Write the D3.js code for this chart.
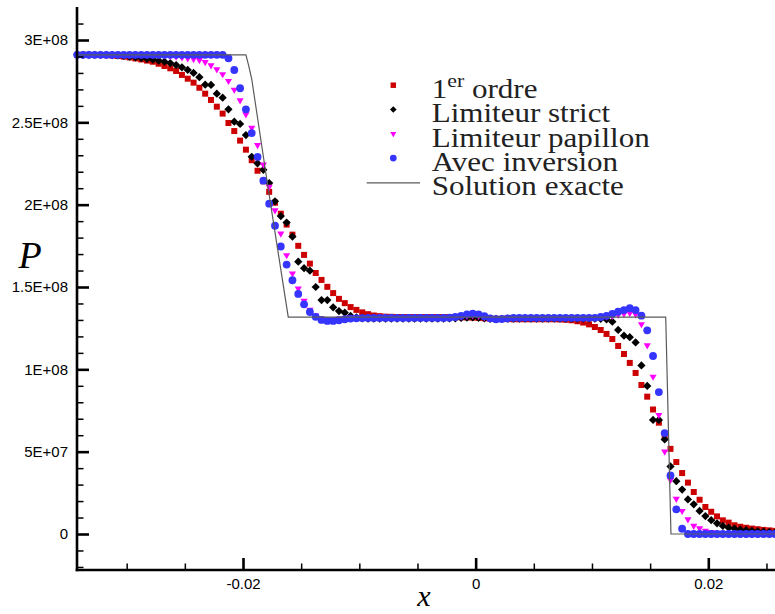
<!DOCTYPE html>
<html><head><meta charset="utf-8">
<script src="https://cdn.jsdelivr.net/npm/d3@7"></script>
<style>body{margin:0;background:#fff}svg{display:block;background:#fff}</style>
</head><body><svg id="c" width="775" height="614"></svg>
<script>
// ---------- data (P in units of 1e6 Pa) ----------
const xCells = [
-0.03425,-0.03375,-0.03325,-0.03275,-0.03225,-0.03175,-0.03125,-0.03075,-0.03025,-0.02975,
-0.02925,-0.02875,-0.02825,-0.02775,-0.02725,-0.02675,-0.02625,-0.02575,-0.02525,-0.02475,
-0.02425,-0.02375,-0.02325,-0.02275,-0.02225,-0.02175,-0.02125,-0.02075,-0.02025,-0.01975,
-0.01925,-0.01875,-0.01825,-0.01775,-0.01725,-0.01675,-0.01625,-0.01575,-0.01525,-0.01475,
-0.01425,-0.01375,-0.01325,-0.01275,-0.01225,-0.01175,-0.01125,-0.01075,-0.01025,-0.00975,
-0.00925,-0.00875,-0.00825,-0.00775,-0.00725,-0.00675,-0.00625,-0.00575,-0.00525,-0.00475,
-0.00425,-0.00375,-0.00325,-0.00275,-0.00225,-0.00175,-0.00125,-0.00075,-0.00025,0.00025,
0.00075,0.00125,0.00175,0.00225,0.00275,0.00325,0.00375,0.00425,0.00475,0.00525,
0.00575,0.00625,0.00675,0.00725,0.00775,0.00825,0.00875,0.00925,0.00975,0.01025,
0.01075,0.01125,0.01175,0.01225,0.01275,0.01325,0.01375,0.01425,0.01475,0.01525,
0.01575,0.01625,0.01675,0.01725,0.01775,0.01825,0.01875,0.01925,0.01975,0.02025,
0.02075,0.02125,0.02175,0.02225,0.02275,0.02325,0.02375,0.02425,0.02475,0.02525,
0.02575];

const pOrdre1 = [
291.0,291.0,291.0,290.9,290.9,290.8,290.6,290.3,289.9,289.4,
288.8,288.2,287.5,286.8,285.6,284.2,282.8,281.2,278.8,276.5,
274.1,271.0,267.4,263.6,259.5,255.3,249.6,244.7,238.9,233.4,
227.0,220.6,214.2,207.8,201.2,194.5,187.9,181.8,175.0,169.5,
164.2,158.5,154.3,150.1,146.3,142.8,140.2,137.8,136.1,134.6,
133.5,132.7,132.3,132.0,131.9,131.8,131.8,131.8,131.8,131.8,
131.8,131.8,131.8,131.8,131.8,131.7,131.6,131.5,131.4,131.2,
131.0,130.8,130.7,130.6,130.5,130.4,130.4,130.4,130.4,130.4,
130.4,130.4,130.4,130.3,130.1,129.8,129.2,128.4,127.3,125.7,
123.9,121.5,118.4,114.2,109.3,103.9,97.8,90.5,83.4,75.6,
67.6,59.7,51.7,43.7,37.0,31.2,25.5,20.8,16.4,13.5,
10.7,8.3,6.9,5.3,4.4,3.8,3.3,2.9,2.5,2.2,
1.9];

const pStrict = [
291.0,291.0,291.0,291.0,291.0,290.9,290.8,290.6,290.3,289.9,
289.5,289.0,288.5,288.1,287.5,286.8,286.0,284.8,283.4,281.8,
280.0,277.4,272.9,272.7,267.4,265.0,257.9,250.4,249.0,242.3,
229.1,225.1,221.2,213.1,202.0,193.1,189.1,180.6,165.4,161.4,
159.9,150.0,142.1,142.1,137.7,135.4,134.4,132.4,131.5,131.0,
130.8,130.8,130.8,130.8,130.8,130.8,130.8,130.8,130.8,130.8,
130.8,130.8,130.8,130.8,130.9,131.0,131.2,131.4,131.5,131.3,
131.0,130.7,130.6,130.7,130.8,130.8,130.8,130.8,130.8,130.8,
130.8,130.8,130.8,130.8,130.8,130.8,130.8,130.8,130.8,130.8,
130.7,130.3,128.9,123.9,120.4,119.5,116.3,102.4,89.9,69.3,
69.3,57.4,41.0,32.1,27.0,21.0,18.0,14.0,10.9,8.4,
6.5,4.9,3.8,3.2,2.7,2.3,1.9,1.6,1.4,1.2,
1.0];

const pPapillon = [
291.0,291.0,291.0,291.0,291.0,291.0,291.0,291.0,291.0,291.0,
291.0,291.0,291.0,290.9,290.8,290.6,290.3,289.9,289.4,288.9,
288.4,287.8,286.6,284.6,282.2,279.2,275.1,269.8,263.4,254.9,
246.6,236.2,224.3,210.8,196.6,182.4,169.3,158.2,149.0,141.6,
136.2,132.6,130.8,130.3,130.4,130.8,131.2,131.5,131.5,131.5,
131.5,131.5,131.5,131.5,131.5,131.5,131.5,131.5,131.5,131.5,
131.5,131.5,131.5,131.5,131.5,131.7,132.0,132.5,132.8,132.4,
131.6,131.0,130.9,131.2,131.5,131.5,131.5,131.5,131.5,131.5,
131.5,131.5,131.5,131.5,131.5,131.5,131.5,131.5,131.5,131.5,
131.7,132.0,132.5,133.1,133.7,134.2,133.4,127.4,114.6,95.5,
72.3,50.0,32.8,21.4,14.0,8.9,4.9,3.5,2.0,1.2,
0.7,0.4,0.2,0.1,0.1,0.1,0.1,0.1,0.1,0.1,
0.1];

const pInversion = [
291.0,291.0,291.0,291.0,291.0,291.0,291.0,291.0,291.0,291.0,
291.0,291.0,291.0,291.0,291.0,291.0,291.0,291.0,291.0,291.0,
291.0,291.0,291.0,291.0,291.0,291.0,288.9,281.8,270.7,257.9,
243.5,229.0,214.6,200.6,187.2,174.6,163.6,154.1,145.8,139.5,
134.8,131.9,130.0,129.4,129.4,129.8,130.4,130.8,131.0,131.1,
131.2,131.2,131.2,131.2,131.2,131.2,131.2,131.2,131.2,131.2,
131.2,131.2,131.2,131.2,131.4,131.8,132.5,133.3,133.8,133.4,
132.3,131.0,130.4,130.6,131.0,131.3,131.3,131.3,131.3,131.3,
131.3,131.3,131.3,131.3,131.3,131.3,131.3,131.3,131.3,131.3,
131.8,132.5,133.6,135.0,136.0,137.1,136.0,132.6,123.7,108.1,
86.2,61.3,35.6,15.0,3.2,0.0,0.0,0.0,0.0,0.0,
0.0,0.0,0.0,0.0,0.0,0.0,0.0,0.0,0.0,0.0,
0.0];

const exactX = [-0.03425,-0.01975,-0.0195,-0.01925,-0.01783,-0.01611,0.01634,0.01679,0.02575];
const exactP = [291.0,291.0,284.2,276.3,209.5,131.7,131.7,0.0,0.0];

const xTickVals = [-0.02, 0, 0.02];
const xTickLabels = ["-0.02", "0", "0.02"];
const xMinorVals = [-0.03,-0.025,-0.015,-0.01,-0.005,0.005,0.01,0.015,0.025];
const yTickVals = [0, 50, 100, 150, 200, 250, 300];
const yTickLabels = ["0", "5E+07", "1E+08", "1.5E+08", "2E+08", "2.5E+08", "3E+08"];
const yMinorVals = [-20,-10,10,20,30,40,60,70,80,90,110,120,130,140,160,170,180,190,210,220,230,240,260,270,280,290,310];

const seriesNames = ["1er ordre", "Limiteur strict", "Limiteur papillon", "Avec inversion", "Solution exacte"];

// ---------- drawing ----------
const svg = d3.select("#c");
const x = d3.scaleLinear().domain([-0.02, 0.02]).range([243, 708.3]);
const y = d3.scaleLinear().domain([0, 300]).range([534, 40]);
const axX = 77, axY = 570, axTop = y(320), axRight = 775;

const series = [
  {vals: pOrdre1, color: "#cc0000", type: d3.symbolSquare, size: 36, rot: 0, lsize: 30},
  {vals: pStrict, color: "#000000", type: d3.symbolSquare, size: 34, rot: 45, lsize: 22},
  {vals: pPapillon, color: "#ff00ff", type: d3.symbolTriangle, size: 22, rot: 180, lsize: 16},
  {vals: pInversion, color: "#3535ff", type: d3.symbolCircle, size: 48, rot: 0, lsize: 36}
];

// markers
series.forEach(s => {
  const gen = d3.symbol().type(s.type).size(s.size);
  svg.append("g").selectAll("path").data(s.vals).join("path")
    .attr("d", gen)
    .attr("fill", s.color)
    .attr("transform", (v, i) => `translate(${x(xCells[i])},${y(v)}) rotate(${s.rot})`);
});

// exact solution
const line = d3.line().x(d => x(d[0])).y(d => y(d[1]));
svg.append("path")
  .attr("d", line(exactX.map((v, i) => [v, exactP[i]])))
  .attr("fill", "none").attr("stroke", "#5a5a5a").attr("stroke-width", 1.2);

// axes
const gy = svg.append("g").attr("transform", `translate(${axX},0)`);
gy.call(d3.axisLeft(y).tickValues(yMinorVals).tickSize(-6.5).tickSizeOuter(0).tickFormat(""));
gy.call(g => g.selectAll(".tick line").attr("stroke-width", 1.5).attr("stroke", "#000"));
gy.select(".domain").remove();
const gy2 = svg.append("g").attr("transform", `translate(${axX},0)`);
gy2.call(d3.axisLeft(y).tickValues(yTickVals).tickFormat((d, i) => yTickLabels[i])
  .tickSize(-12).tickSizeOuter(0).tickPadding(9));
gy2.select(".domain").remove();
gy2.selectAll(".tick line").attr("stroke-width", 2.6).attr("stroke", "#000");
gy2.selectAll(".tick text").attr("font-family", "'Liberation Sans', Arial, sans-serif")
  .attr("font-size", 15).attr("fill", "#000");

const gx = svg.append("g").attr("transform", `translate(0,${axY})`);
gx.call(d3.axisBottom(x).tickValues(xMinorVals).tickSize(-6.5).tickSizeOuter(0).tickFormat(""));
gx.select(".domain").remove();
gx.selectAll(".tick line").attr("stroke-width", 1.5).attr("stroke", "#000");
const gx2 = svg.append("g").attr("transform", `translate(0,${axY})`);
gx2.call(d3.axisBottom(x).tickValues(xTickVals).tickFormat((d, i) => xTickLabels[i])
  .tickSize(-12).tickSizeOuter(0).tickPadding(8));
gx2.select(".domain").remove();
gx2.selectAll(".tick line").attr("stroke-width", 2.6).attr("stroke", "#000");
gx2.selectAll(".tick text").attr("font-family", "'Liberation Sans', Arial, sans-serif")
  .attr("font-size", 15).attr("fill", "#000");

svg.append("line").attr("x1", axX).attr("x2", axX).attr("y1", axTop).attr("y2", axY + 1.3)
  .attr("stroke", "#000").attr("stroke-width", 2.6);
svg.append("line").attr("x1", axX - 1.3).attr("x2", axRight).attr("y1", axY).attr("y2", axY)
  .attr("stroke", "#000").attr("stroke-width", 2.6);

// axis titles
svg.append("text").attr("x", 30).attr("y", 268).attr("text-anchor", "middle")
  .attr("font-family", "'Liberation Serif', serif").attr("font-style", "italic")
  .attr("font-size", 38).text("P");
svg.append("text").attr("x", 424).attr("y", 606).attr("text-anchor", "middle")
  .attr("font-family", "'Liberation Serif', serif").attr("font-style", "italic")
  .attr("font-size", 30).text("x");

// legend
const legX = 431.7, legB0 = 98, legStep = 24.3, markX = 393.3;
const leg = svg.append("g");
seriesNames.forEach((name, i) => {
  const base = legB0 + i * legStep;
  const cy = base - 12.8;
  if (i < 4) {
    const s = series[i];
    leg.append("path").attr("d", d3.symbol().type(s.type).size(s.lsize)())
      .attr("fill", s.color).attr("transform", `translate(${markX},${cy}) rotate(${s.rot})`);
  } else {
    leg.append("line").attr("x1", 366.7).attr("x2", 420).attr("y1", cy + 0.5).attr("y2", cy + 0.5)
      .attr("stroke", "#5a5a5a").attr("stroke-width", 1.2);
  }
  const t = leg.append("text").attr("transform", `translate(${legX},${base}) scale(1.15,1)`)
    .attr("font-family", "'Liberation Serif', serif").attr("font-size", 27).attr("fill", "#222");
  if (name.startsWith("1er")) {
    t.append("tspan").text("1");
    t.append("tspan").attr("dy", -11).attr("font-size", 19).text("er");
    t.append("tspan").attr("dy", 11).text(name.slice(3));
  } else {
    t.text(name);
  }
});
</script></body></html>
